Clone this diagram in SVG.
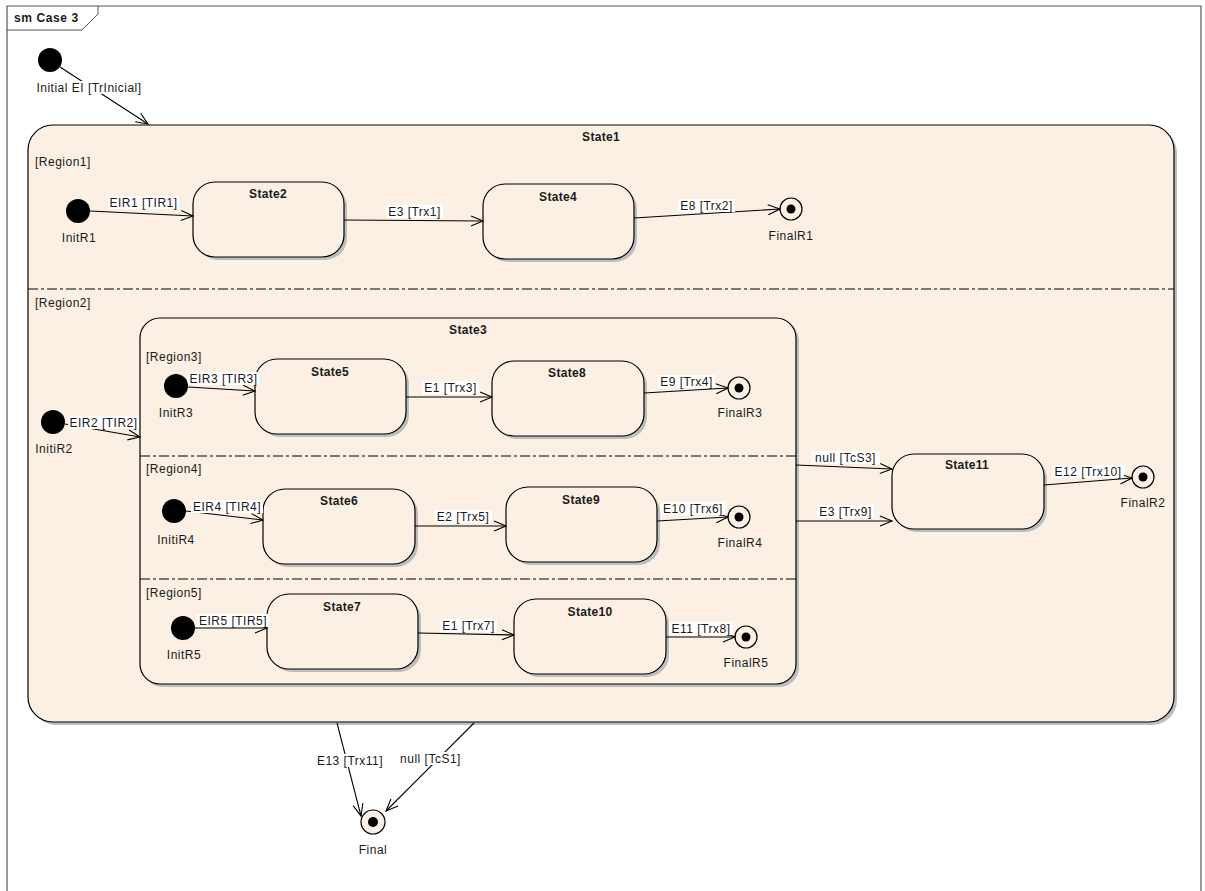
<svg xmlns="http://www.w3.org/2000/svg" width="1205" height="891" viewBox="0 0 1205 891">
<style>
text{font-family:"Liberation Sans",Arial,sans-serif;font-size:12px;fill:#1a1a1a;letter-spacing:0.5px}
.nm{font-weight:bold;text-anchor:middle;letter-spacing:0.3px}
.lb{text-anchor:middle}
.st{fill:#FBF0E3;stroke:#000;stroke-width:1.2}
.sh{fill:#BDBDBD}
.bg{fill:#fff}
.ini{fill:#000}
.fo{fill:#FBF0E3;stroke:#000;stroke-width:1.2}
.fi{fill:#000}
.tr{fill:none;stroke:#000;stroke-width:1.1;marker-end:url(#arr)}
.div{stroke:#000;stroke-width:1;stroke-dasharray:10,3,3,3}
</style>
<defs>
<marker id="arr" markerUnits="userSpaceOnUse" markerWidth="16" markerHeight="14" refX="13" refY="6" orient="auto">
<path d="M1,1 L13,6 L1,11" fill="none" stroke="#000" stroke-width="1.1"/>
</marker>
</defs>
<rect x="0" y="0" width="1205" height="891" fill="#fff"/>
<g id="frame">
<path d="M7,895 L7,6 L1201,6 L1201,895" fill="none" stroke="#555" stroke-width="1.2"/>
<path d="M7,30 L82,30 L98,14 L98,6" fill="none" stroke="#555" stroke-width="1"/>
<text x="14" y="22" style="font-weight:bold;letter-spacing:0.6px">sm Case 3</text>
</g>

<g id="State1">
<rect class="sh" x="31" y="128" width="1146" height="597" rx="25"/>
<rect class="st" x="28" y="125" width="1146" height="597" rx="25"/>
<text class="nm" x="601" y="141">State1</text>
<line class="div" x1="28" y1="289" x2="1174" y2="289"/>
<text x="35" y="166">[Region1]</text>
<text x="35" y="307">[Region2]</text>
</g>

<g id="State3">
<rect class="sh" x="143" y="321" width="656" height="366" rx="20"/>
<rect class="st" x="140" y="318" width="656" height="366" rx="20"/>
<text class="nm" x="468" y="334">State3</text>
<line class="div" x1="140" y1="456" x2="796" y2="456"/>
<line class="div" x1="140" y1="579" x2="796" y2="579"/>
<text x="146" y="361">[Region3]</text>
<text x="146" y="473">[Region4]</text>
<text x="146" y="597">[Region5]</text>
</g>

<g id="State2">
<rect class="sh" x="196" y="185" width="151" height="75" rx="22"/>
<rect class="st" x="193" y="182" width="151" height="75" rx="22"/>
<text class="nm" x="268" y="198">State2</text>
</g>
<g id="State4">
<rect class="sh" x="486" y="187" width="151" height="75" rx="22"/>
<rect class="st" x="483" y="184" width="151" height="75" rx="22"/>
<text class="nm" x="558" y="201">State4</text>
</g>
<g id="State5">
<rect class="sh" x="258" y="362" width="151" height="75" rx="22"/>
<rect class="st" x="255" y="359" width="151" height="75" rx="22"/>
<text class="nm" x="330" y="376">State5</text>
</g>
<g id="State8">
<rect class="sh" x="495" y="364" width="152" height="75" rx="22"/>
<rect class="st" x="492" y="361" width="152" height="75" rx="22"/>
<text class="nm" x="567" y="377">State8</text>
</g>
<g id="State6">
<rect class="sh" x="266" y="492" width="152" height="75" rx="22"/>
<rect class="st" x="263" y="489" width="152" height="75" rx="22"/>
<text class="nm" x="339" y="505">State6</text>
</g>
<g id="State9">
<rect class="sh" x="509" y="490" width="151" height="75" rx="22"/>
<rect class="st" x="506" y="487" width="151" height="75" rx="22"/>
<text class="nm" x="581" y="504">State9</text>
</g>
<g id="State7">
<rect class="sh" x="270" y="597" width="151" height="75" rx="22"/>
<rect class="st" x="267" y="594" width="151" height="75" rx="22"/>
<text class="nm" x="342" y="611">State7</text>
</g>
<g id="State10">
<rect class="sh" x="517" y="602" width="152" height="75" rx="22"/>
<rect class="st" x="514" y="599" width="152" height="75" rx="22"/>
<text class="nm" x="590" y="616">State10</text>
</g>
<g id="State11">
<rect class="sh" x="895" y="457" width="152" height="75" rx="22"/>
<rect class="st" x="892" y="454" width="152" height="75" rx="22"/>
<text class="nm" x="967" y="469">State11</text>
</g>

<g id="Initial">
<circle class="ini" cx="50" cy="60" r="12"/>
</g>
<g id="InitR1">
<circle class="ini" cx="78" cy="211" r="12"/>
<text class="lb" x="79" y="242">InitR1</text>
</g>
<g id="InitiR2">
<circle class="ini" cx="53" cy="422" r="12"/>
<text class="lb" x="54" y="453">InitiR2</text>
</g>
<g id="InitR3">
<circle class="ini" cx="176" cy="386" r="12"/>
<text class="lb" x="176" y="417">InitR3</text>
</g>
<g id="InitiR4">
<circle class="ini" cx="174" cy="511" r="12"/>
<text class="lb" x="176" y="544">InitiR4</text>
</g>
<g id="InitR5">
<circle class="ini" cx="183" cy="628" r="12"/>
<text class="lb" x="184" y="659">InitR5</text>
</g>

<g id="FinalR1">
<circle class="fo" cx="791" cy="209" r="11"/>
<circle class="fi" cx="791" cy="209" r="4.5"/>
<text class="lb" x="791" y="240">FinalR1</text>
</g>
<g id="FinalR3">
<circle class="fo" cx="739" cy="388" r="11"/>
<circle class="fi" cx="739" cy="388" r="4.5"/>
<text class="lb" x="740" y="417">FinalR3</text>
</g>
<g id="FinalR4">
<circle class="fo" cx="739" cy="517" r="11"/>
<circle class="fi" cx="739" cy="517" r="4.5"/>
<text class="lb" x="740" y="547">FinalR4</text>
</g>
<g id="FinalR5">
<circle class="fo" cx="746" cy="637" r="11"/>
<circle class="fi" cx="746" cy="637" r="4.5"/>
<text class="lb" x="746" y="667">FinalR5</text>
</g>
<g id="FinalR2">
<circle class="fo" cx="1143" cy="477" r="11"/>
<circle class="fi" cx="1143" cy="477" r="4.5"/>
<text class="lb" x="1143" y="507">FinalR2</text>
</g>
<g id="Final">
<circle class="fo" cx="373" cy="822" r="12"/>
<circle class="fi" cx="373" cy="822" r="5"/>
<text class="lb" x="373" y="854">Final</text>
</g>

<g id="connectors">
<line class="tr" x1="60" y1="67" x2="148" y2="124"/>
<line class="tr" x1="90" y1="211" x2="193" y2="216"/>
<line class="tr" x1="344" y1="220" x2="483" y2="221"/>
<line class="tr" x1="634" y1="218" x2="780" y2="209"/>
<line class="tr" x1="65" y1="424" x2="140" y2="437"/>
<line class="tr" x1="188" y1="387" x2="255" y2="391"/>
<line class="tr" x1="406" y1="397" x2="492" y2="397"/>
<line class="tr" x1="644" y1="393" x2="728" y2="388"/>
<line class="tr" x1="186" y1="511" x2="263" y2="520"/>
<line class="tr" x1="415" y1="526" x2="506" y2="526"/>
<line class="tr" x1="657" y1="521" x2="728" y2="517"/>
<line class="tr" x1="195" y1="628" x2="267" y2="628"/>
<line class="tr" x1="418" y1="633" x2="514" y2="635"/>
<line class="tr" x1="666" y1="637" x2="735" y2="637"/>
<line class="tr" x1="796" y1="465" x2="892" y2="469"/>
<line class="tr" x1="796" y1="521" x2="892" y2="521"/>
<line class="tr" x1="1044" y1="485" x2="1132" y2="478"/>
<line class="tr" x1="337" y1="723" x2="361" y2="816"/>
<line class="tr" x1="474" y1="723" x2="386" y2="811"/>

<rect class="bg" x="34" y="81" width="110" height="13"/>
<text class="lb" x="89" y="92">Initial EI [TrInicial]</text>
<rect class="bg" x="108" y="196" width="71" height="13"/>
<text class="lb" x="143.5" y="207">EIR1 [TIR1]</text>
<rect class="bg" x="386" y="205" width="57" height="13"/>
<text class="lb" x="414.5" y="216">E3 [Trx1]</text>
<rect class="bg" x="678" y="199" width="57" height="13"/>
<text class="lb" x="706.5" y="210">E8 [Trx2]</text>
<rect class="bg" x="68" y="416" width="71" height="13"/>
<text class="lb" x="103.5" y="427">EIR2 [TIR2]</text>
<rect class="bg" x="188" y="372" width="71" height="13"/>
<text class="lb" x="223.5" y="383">EIR3 [TIR3]</text>
<rect class="bg" x="422" y="381" width="57" height="13"/>
<text class="lb" x="450.5" y="392">E1 [Trx3]</text>
<rect class="bg" x="658" y="375" width="57" height="13"/>
<text class="lb" x="686.5" y="386">E9 [Trx4]</text>
<rect class="bg" x="811" y="451" width="69" height="13"/>
<text class="lb" x="845.5" y="462">null [TcS3]</text>
<rect class="bg" x="817" y="505" width="57" height="13"/>
<text class="lb" x="845.5" y="516">E3 [Trx9]</text>
<rect class="bg" x="1052" y="465" width="72" height="13"/>
<text class="lb" x="1088" y="476">E12 [Trx10]</text>
<rect class="bg" x="191" y="500" width="72" height="13"/>
<text class="lb" x="227" y="511">EIR4 [TIR4]</text>
<rect class="bg" x="434" y="510" width="58" height="13"/>
<text class="lb" x="463" y="521">E2 [Trx5]</text>
<rect class="bg" x="197" y="614" width="72" height="13"/>
<text class="lb" x="233" y="625">EIR5 [TIR5]</text>
<rect class="bg" x="440" y="619" width="57" height="13"/>
<text class="lb" x="468.5" y="630">E1 [Trx7]</text>
<rect class="bg" x="661" y="502" width="64" height="13"/>
<text class="lb" x="693" y="513">E10 [Trx6]</text>
<rect class="bg" x="669" y="622" width="64" height="13"/>
<text class="lb" x="701" y="633">E11 [Trx8]</text>
<rect class="bg" x="315" y="754" width="70" height="13"/>
<text class="lb" x="350" y="765">E13 [Trx11]</text>
<rect class="bg" x="397" y="752" width="67" height="13"/>
<text class="lb" x="430.5" y="763">null [TcS1]</text>
</g>
</svg>
